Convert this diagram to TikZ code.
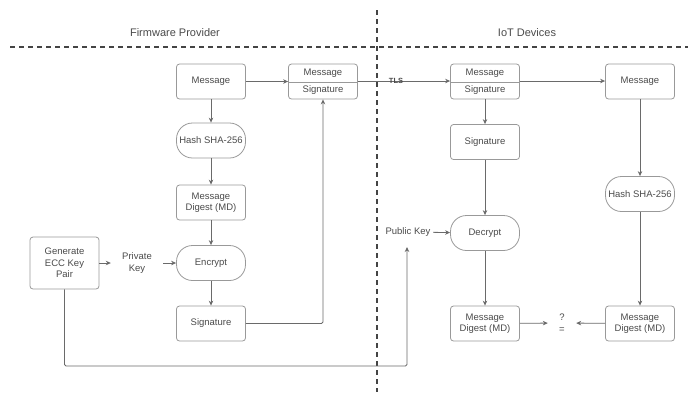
\documentclass[tikz,border=0pt]{standalone}
\usepackage{fontspec}
\setmainfont{Liberation Sans}
\usetikzlibrary{arrows.meta}

\definecolor{txt}{HTML}{4A4A4A}
\definecolor{edge}{HTML}{999999}
\definecolor{wire}{HTML}{6A6A6A}
\definecolor{sep}{HTML}{444444}

\tikzset{
  base/.style={font=\fontsize{9.5}{11.5}\selectfont, text=txt, align=center},
  box/.style={base, draw=edge, line width=0.8pt, rounded corners=3pt,
              minimum width=69pt, minimum height=35pt, inner sep=1pt},
  pill/.style={box, rounded corners=16pt},
  label/.style={base, inner sep=2.5pt},
  arr/.style={draw=wire, line width=0.8pt, -{Stealth[length=5pt,width=4.5pt]}},
  divider/.style={draw=sep, line width=1.1pt, dash pattern=on 5pt off 4pt},
  title/.style={font=\fontsize{11}{13}\selectfont, text=txt}
}

\begin{document}
\begin{tikzpicture}[x=1pt,y=-1pt]
\useasboundingbox (0,0) rectangle (688,392);

% swimlane separators and headings
\coordinate (vtop) at (377,10);
\coordinate (vbot) at (377,392);
\coordinate (hl) at (10,47);
\coordinate (hr) at (688,47);
\draw[divider] (vtop) -- (vbot);
\draw[divider] (hl) -- (hr);
\node[title] (fp) at (175,33) {Firmware Provider};
\node[title] (iot) at (527,33) {IoT Devices};

% ---------- firmware provider side ----------
\node[box]  (msg)  at (211,81.5)  {Message};
\node[pill] (hash) at (211,140.5) {Hash SHA-256};
\node[box]  (md)   at (211,202.5) {Message\\Digest (MD)};
\node[pill] (enc)  at (211,263)   {Encrypt};
\node[box]  (sig)  at (211,323.5) {Signature};
\node[box, minimum height=52pt] (gen) at (64.5,263) {Generate\\ECC Key\\Pair};
\node[label, minimum width=52pt] (priv) at (137,263) {Private\\Key};

% signed package (two compartments)
\node[box] (pkg) at (323,81.5) {};
\node[label] (pkgm) at (323,73.5) {Message};
\node[label] (pkgs) at (323,90.5) {Signature};
\draw[draw=edge, line width=0.8pt] (pkg.west |- 0,82) -- (pkg.east |- 0,82);

\draw[arr] (msg) -- (hash);
\draw[arr] (hash) -- (md);
\draw[arr] (md) -- (enc);
\draw[arr] (enc) -- (sig);
\draw[arr] (gen) -- (priv);
\draw[arr] (priv) -- (enc);
\draw[arr] (msg.east) -- (msg.east -| pkg.west);
\draw[arr, rounded corners=1.5pt] (sig.east) -| (pkg.south);

% ---------- IoT device side ----------
\node[box] (rpkg) at (485,81.5) {};
\node[label] (rpkgm) at (485,73.5) {Message};
\node[label] (rpkgs) at (485,90.5) {Signature};
\draw[draw=edge, line width=0.8pt] (rpkg.west |- 0,82) -- (rpkg.east |- 0,82);

\node[box]  (rmsg)  at (640,81.5)  {Message};
\node[box]  (rsig)  at (485,142)   {Signature};
\node[pill] (dec)   at (485,233)   {Decrypt};
\node[box]  (rmd1)  at (485,323.5) {Message\\Digest (MD)};
\node[pill] (rhash) at (640,194)   {Hash SHA-256};
\node[box]  (rmd2)  at (640,323.5) {Message\\Digest (MD)};
\node[label] (pub) at (408,232) {Public Key};
\node[base, minimum width=28pt, inner sep=0pt] (cmp) at (562,323) {?\\=};

% transfer over TLS
\draw[arr] (pkg.east |- 0,81) -- (rpkg.west |- 0,81);
\node[font=\bfseries\fontsize{7.5}{8}\selectfont, text=txt, inner sep=0pt] (tls) at (396,81) {TLS};

\draw[arr] (rpkg.east |- 0,81) -- (rmsg.west |- 0,81);
\draw[arr] (rpkg) -- (rsig);
\draw[arr] (rsig) -- (dec);
\draw[arr] (dec) -- (rmd1);
\draw[arr] (rmsg) -- (rhash);
\draw[arr] (rhash) -- (rmd2);
\draw[arr] (pub) -- (dec);
\draw[arr] (rmd1) -- (cmp);
\draw[arr] (rmd2) -- (cmp);

% public key delivered to the device
\coordinate (route) at (407,366);
\coordinate (pubin) at (407,247);
\draw[arr, rounded corners=1.5pt] (gen.south) |- (route) -- (pubin);
\end{tikzpicture}
\end{document}
